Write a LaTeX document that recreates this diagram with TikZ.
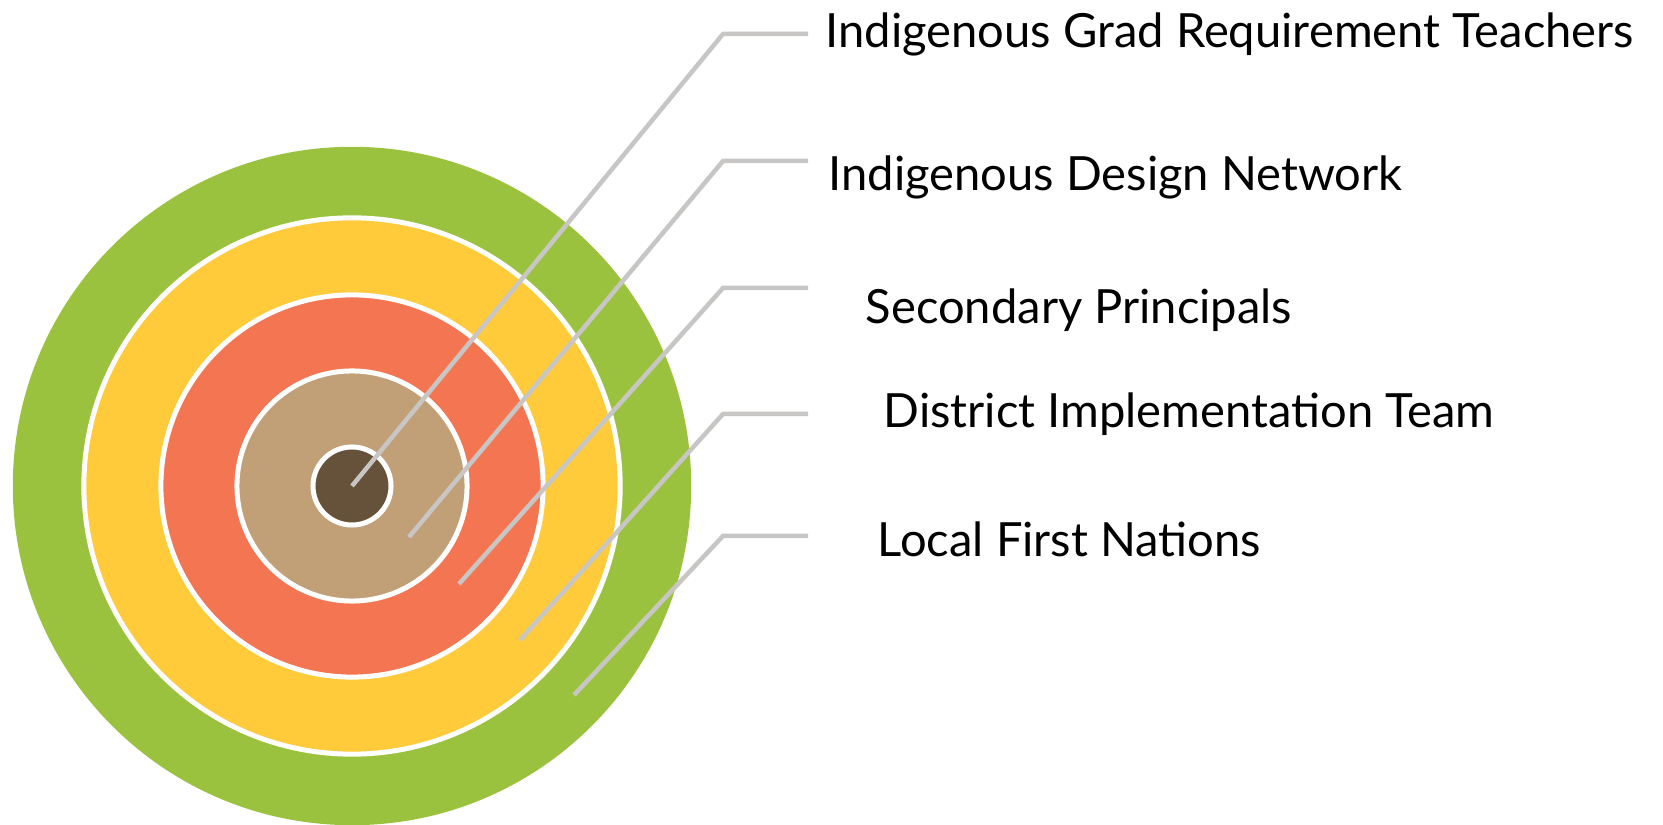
\documentclass[tikz,border=0pt]{standalone}
\usepackage{fontspec}
\setmainfont{Lato}
\usepackage{xcolor}
\usetikzlibrary{
	positioning,   %定位
	calc           %计算
}
\definecolor{ringgreen}{HTML}{9BC23E}
\definecolor{ringyellow}{HTML}{FFCB3A}
\definecolor{ringred}{HTML}{F47551}
\definecolor{ringtan}{HTML}{C1A077}
\definecolor{ringbrown}{HTML}{66513B}
\definecolor{leadgray}{HTML}{C8C6C4}
\tikzset{
	ring/.style={circle,draw=white,line width=0.05cm,inner sep=0pt},
	leader/.style={draw=leadgray,line width=0.045cm},
	tag/.style={anchor=west,inner sep=0pt,font=\fontsize{13.4}{16}\selectfont}
}

\begin{document}
\begin{tikzpicture}[x=0.01cm,y=-0.01cm]
\useasboundingbox (0,0) rectangle (1663,825);
%同心圆,从外到内
\node[ring,draw=none,fill=ringgreen,minimum size=6.78cm] (green) at (352,486) {};
\node[ring,fill=ringyellow,minimum size=5.36cm] (yellow) at (green) {};
\node[ring,fill=ringred,minimum size=3.82cm] (red) at (green) {};
\node[ring,fill=ringtan,minimum size=2.30cm] (tan) at (green) {};
\node[ring,fill=ringbrown,minimum size=0.78cm] (brown) at (green) {};
%引线的起点
\coordinate (s1) at (brown.center);
\coordinate (s2) at (409,537);
\coordinate (s3) at (459,584);
\coordinate (s4) at (520,640);
\coordinate (s5) at (574,695);
%引线的拐点和终点
\coordinate (k1) at (723,34);  \coordinate (e1) at (808,34);
\coordinate (k2) at (723,161); \coordinate (e2) at (808,161);
\coordinate (k3) at (723,288); \coordinate (e3) at (808,288);
\coordinate (k4) at (723,414); \coordinate (e4) at (808,414);
\coordinate (k5) at (723,536); \coordinate (e5) at (808,536);
%文字
\node[tag] (t1) at (825,34) {Indigenous Grad Requirement Teachers};
\node[tag] (t2) at (828,177) {Indigenous Design Network};
\node[tag] (t3) at (865,310) {Secondary Principals};
\node[tag] (t4) at (883,414) {District Implementation Team};
\node[tag] (t5) at (877,539) {Local First Nations};
%画引线
\foreach \i in {1,...,5}
	\draw[leader] (s\i) -- (k\i) -- (e\i);
\end{tikzpicture}
\end{document}
